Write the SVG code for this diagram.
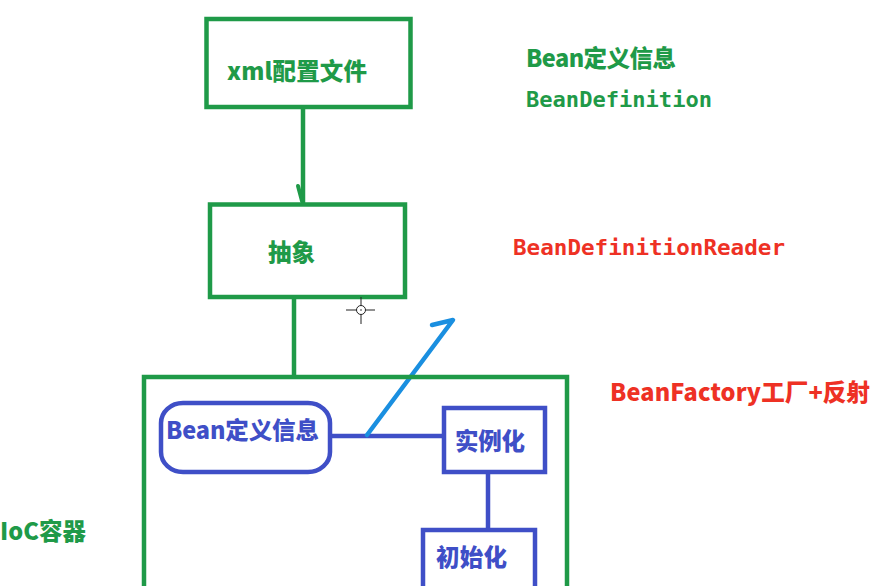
<svg xmlns="http://www.w3.org/2000/svg" width="873" height="586" viewBox="0 0 873 586">
<style>
.g{fill:none;stroke:#1f9a48;stroke-width:4.5}
.b{fill:none;stroke:#3f4fc7;stroke-width:4.5}
.t{font-family:"Noto Sans CJK SC","Microsoft YaHei",sans-serif;font-weight:900;font-size:23.5px}
.m{font-family:"DejaVu Sans Mono","Liberation Mono",monospace;font-weight:bold;font-size:22px}
.tg{fill:#1f9a48}.tb{fill:#3f4fc7}.tr{fill:#ee3124}
</style>
<rect width="873" height="586" fill="#ffffff"/>
<g id="connectors">
<line class="g" x1="303" y1="107" x2="303" y2="204"/>
<line x1="298" y1="186" x2="302" y2="201" stroke="#1f9a48" stroke-width="4" stroke-linecap="round"/>
<line class="g" x1="294" y1="297" x2="294" y2="377"/>
<line class="b" x1="330" y1="436" x2="444" y2="436"/>
<line class="b" x1="488" y1="472" x2="488" y2="530"/>
<path d="M367 435 L453 320 L432 325" fill="none" stroke="#1a8fe0" stroke-width="4.5" stroke-linecap="round" stroke-linejoin="round"/>
</g>
<g id="node-xml">
<rect class="g" x="206.5" y="19" width="204" height="88"/>
<text class="t tg" x="227" y="80" textLength="140">xml配置文件</text>
</g>
<g id="node-abstract">
<rect class="g" x="210" y="204.5" width="195" height="92.5"/>
<text class="t tg" x="268" y="261" textLength="47">抽象</text>
</g>
<g id="node-ioc">
<rect class="g" x="144" y="377" width="423" height="240"/>
</g>
<g id="node-beandef">
<rect class="b" x="161" y="403" width="169" height="69" rx="22" ry="20"/>
<text class="t tb" x="166" y="439" textLength="153">Bean定义信息</text>
</g>
<g id="node-instantiate">
<rect class="b" x="444" y="408" width="101" height="64"/>
<text class="t tb" x="455" y="450" textLength="70">实例化</text>
</g>
<g id="node-init">
<rect class="b" x="423" y="530" width="112" height="80"/>
<text class="t tb" x="436" y="566" textLength="71">初始化</text>
</g>
<g id="labels">
<text class="t tg" x="526" y="67" textLength="150">Bean定义信息</text>
<text class="m tg" x="526" y="107" textLength="186" lengthAdjust="spacingAndGlyphs">BeanDefinition</text>
<text class="m tr" x="513" y="255" textLength="272" lengthAdjust="spacingAndGlyphs">BeanDefinitionReader</text>
<text class="t tr" x="610" y="401" textLength="260">BeanFactory工厂+反射</text>
<text class="t tg" x="0" y="540" textLength="86">IoC容器</text>
</g>
<g id="cursor" stroke="#222" stroke-width="1" fill="none">
<line x1="361" y1="297" x2="361" y2="324"/>
<line x1="346" y1="310" x2="375" y2="310"/>
<circle cx="361" cy="310" r="4.5" fill="#fff"/>
<circle cx="361" cy="310" r="0.8" fill="#222" stroke="none"/>
</g>
</svg>
